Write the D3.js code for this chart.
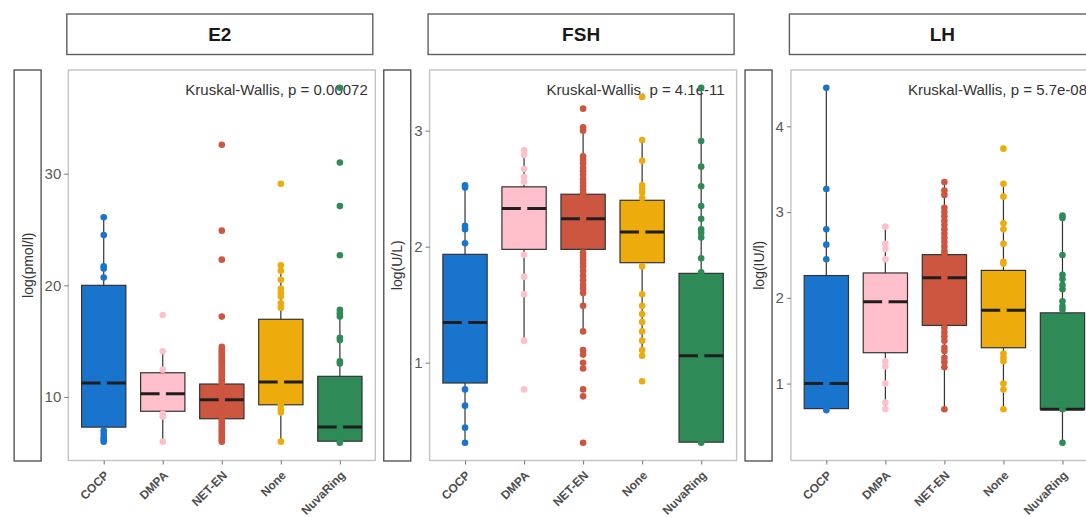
<!DOCTYPE html>
<html>
<head>
<meta charset="utf-8">
<script src="https://cdn.jsdelivr.net/npm/d3@7"></script>
<style>
  body { margin: 0; background: #fff; }
  svg { display: block; font-family: "Liberation Sans", Arial, sans-serif; }
</style>
</head>
<body>
<svg id="chart" width="1086" height="517"></svg>
<script>
// ---- categories and labels ----
const groups = ["COCP", "DMPA", "NET-EN", "None", "NuvaRing"];
const groupColors = ["#1874CD", "#FFC0CB", "#CD5640", "#EDAB0C", "#2E8B57"];
const hormones = ["E2", "FSH", "LH"];
const yTitles = ["log(pmol/l)", "log(U/L)", "log(IU/l)"];
const testLabels = [
  "Kruskal-Wallis, p = 0.00072",
  "Kruskal-Wallis, p = 4.1e-11",
  "Kruskal-Wallis, p = 5.7e-08"
];

// ---- E2 ----
const e2Ticks = [10, 20, 30];
const e2Lower  = [6.0, 6.0, 6.0, 6.0, 5.9];
const e2Q1     = [7.3, 8.72, 8.05, 9.3, 6.04];
const e2Median = [11.25, 10.3, 9.76, 11.34, 7.3];
const e2Q3     = [20.0, 12.17, 11.16, 16.96, 11.85];
const e2Upper  = [26.1, 14.1, 14.5, 21.8, 17.8];
const e2Points = [
  [26.1, 24.5, 21.7, 21.5, 20.7, 16.0, 11.25, 9.0, 7.0, 6.7, 6.4, 6.2, 6.0],
  [17.35, 14.1, 12.45, 11.5, 10.3, 9.5, 8.5, 8.25, 6.0],
  [32.6, 24.9, 22.3, 17.2, 14.5, 14.3, 14.1, 13.9, 13.7, 13.5, 13.3, 13.1, 12.9, 12.7, 12.5, 12.3, 12.1, 11.9, 11.7, 11.5, 11.3, 10.6, 9.76, 9.0, 8.5, 8.0, 7.8, 7.6, 7.4, 7.2, 7.0, 6.8, 6.6, 6.4, 6.2, 6.0],
  [29.1, 21.8, 21.3, 20.5, 19.7, 19.3, 19.0, 18.4, 18.0, 14.0, 11.34, 9.9, 9.3, 8.9, 8.6, 6.0],
  [37.7, 31.0, 27.1, 22.7, 17.8, 17.5, 17.2, 15.3, 15.1, 13.2, 13.0, 11.0, 9.0, 7.3, 6.5, 6.04, 5.9]
];

// ---- FSH ----
const fshTicks = [1, 2, 3];
const fshLower  = [0.31, 1.19, 1.27, 1.06, 0.31];
const fshQ1     = [0.825, 1.977, 1.977, 1.862, 0.315];
const fshMedian = [1.347, 2.33, 2.24, 2.126, 1.06];
const fshQ3     = [1.934, 2.516, 2.452, 2.40, 1.77];
const fshUpper  = [2.53, 2.83, 3.03, 2.92, 3.37];
const fshPoints = [
  [2.53, 2.51, 2.18, 2.15, 2.03, 1.7, 1.347, 1.0, 0.77, 0.63, 0.44, 0.31],
  [2.83, 2.79, 2.67, 2.6, 2.56, 2.45, 2.33, 2.1, 1.93, 1.74, 1.59, 1.19, 0.77],
  [3.19, 3.03, 3.0, 2.78, 2.75, 2.72, 2.68, 2.65, 2.62, 2.58, 2.55, 2.52, 2.49, 2.46, 2.35, 2.24, 2.1, 1.95, 1.92, 1.89, 1.86, 1.83, 1.79, 1.75, 1.71, 1.67, 1.64, 1.6, 1.49, 1.27, 1.11, 1.07, 1.0, 0.95, 0.77, 0.71, 0.31],
  [3.29, 2.92, 2.74, 2.53, 2.5, 2.47, 2.42, 2.3, 2.126, 1.95, 1.83, 1.59, 1.49, 1.42, 1.35, 1.27, 1.19, 1.11, 1.06, 0.84],
  [3.37, 2.91, 2.69, 2.52, 2.35, 2.24, 2.15, 2.12, 2.08, 1.9, 1.78, 1.5, 1.06, 0.7, 0.31]
];

// ---- LH ----
const lhTicks = [1, 2, 3, 4];
const lhLower  = [0.69, 0.7, 0.7, 0.7, 0.31];
const lhQ1     = [0.708, 1.36, 1.678, 1.418, 0.70];
const lhMedian = [1.0, 1.953, 2.233, 1.856, 0.70];
const lhQ3     = [2.26, 2.29, 2.504, 2.32, 1.825];
const lhUpper  = [4.45, 2.83, 3.35, 3.33, 2.96];
const lhPoints = [
  [4.45, 3.27, 2.8, 2.62, 2.45, 1.8, 1.0, 0.8, 0.72, 0.69],
  [2.83, 2.63, 2.57, 2.45, 2.1, 1.953, 1.6, 1.26, 1.2, 1.0, 0.78, 0.7],
  [3.35, 3.25, 3.2, 3.05, 3.0, 2.95, 2.9, 2.85, 2.8, 2.75, 2.7, 2.65, 2.6, 2.55, 2.52, 2.233, 1.9, 1.65, 1.6, 1.55, 1.5, 1.42, 1.38, 1.3, 1.25, 1.19, 0.7],
  [3.74, 3.33, 3.18, 2.87, 2.8, 2.63, 2.42, 2.4, 2.1, 1.856, 1.6, 1.35, 1.3, 1.26, 1.0, 0.93, 0.7],
  [2.96, 2.93, 2.5, 2.27, 2.22, 2.15, 2.1, 1.96, 1.9, 1.86, 1.5, 1.0, 0.7, 0.31]
];

const panels = [
  { ticks: e2Ticks,  lower: e2Lower,  q1: e2Q1,  med: e2Median,  q3: e2Q3,  upper: e2Upper,  pts: e2Points },
  { ticks: fshTicks, lower: fshLower, q1: fshQ1, med: fshMedian, q3: fshQ3, upper: fshUpper, pts: fshPoints },
  { ticks: lhTicks,  lower: lhLower,  q1: lhQ1,  med: lhMedian,  q3: lhQ3,  upper: lhUpper,  pts: lhPoints }
];

// ---- layout ----
const panelLeft0 = 68.3, panelGap = 361.3, panelW = 307;
const panelTop = 70, panelH = 390.5;
const stripTop = 14, stripH = 40.5;

const svg = d3.select("#chart");
svg.append("rect").attr("width", 1086).attr("height", 517).attr("fill", "#fff");

panels.forEach((p, i) => {
  const left = panelLeft0 + i * panelGap;
  const g = svg.append("g").attr("transform", `translate(${left},${panelTop})`);

  const all = p.pts.flat().concat(p.lower, p.upper);
  const [mn, mx] = d3.extent(all);
  const pad = (mx - mn) * 0.05;
  const y = d3.scaleLinear().domain([mn - pad, mx + pad]).range([panelH, 0]);
  const x = d3.scalePoint().domain(groups).range([0, panelW]).padding(0.6);
  const bw = x.step() * 0.75;

  // facet strip
  g.append("rect")
    .attr("x", -1.5).attr("y", stripTop - panelTop)
    .attr("width", panelW - 1).attr("height", stripH)
    .attr("fill", "#fff").attr("stroke", "#5f5f5f").attr("stroke-width", 1.4);
  g.append("text")
    .attr("x", panelW / 2 - 2).attr("y", stripTop - panelTop + stripH / 2 + 7)
    .attr("text-anchor", "middle").attr("font-size", 19).attr("font-weight", "bold")
    .attr("fill", "#1a1a1a").text(hormones[i]);

  // panel background + border
  g.append("rect").attr("width", panelW).attr("height", panelH)
    .attr("fill", "#fff").attr("stroke", "#c4c4c4").attr("stroke-width", 1.4);

  // y axis
  const ya = g.append("g")
    .call(d3.axisLeft(y).tickValues(p.ticks).tickSize(4).tickPadding(3).tickFormat(d3.format("d")))
    .attr("font-size", null).attr("font-family", null);
  ya.select(".domain").remove();
  ya.selectAll(".tick line").attr("stroke", "#7f7f7f").attr("stroke-width", 1.1);
  ya.selectAll(".tick text").attr("fill", "#5a5a5a").attr("font-size", 15);

  // boxed y title, placed just left of the tick labels
  const bb = ya.node().getBBox();
  const boxW = 27, boxRight = bb.x - 3.5;
  g.append("rect")
    .attr("x", boxRight - boxW).attr("y", 0).attr("width", boxW).attr("height", panelH + 0.5)
    .attr("fill", "#fff").attr("stroke", "#555").attr("stroke-width", 1.4);
  g.append("text")
    .attr("transform", `translate(${boxRight - boxW / 2 + 5},${panelH / 2}) rotate(-90)`)
    .attr("text-anchor", "middle").attr("font-size", 14).attr("fill", "#333")
    .text(yTitles[i]);

  // x axis
  const xa = g.append("g").attr("transform", `translate(0,${panelH})`)
    .call(d3.axisBottom(x).tickSize(4))
    .attr("font-size", null).attr("font-family", null);
  xa.select(".domain").remove();
  xa.selectAll(".tick line").attr("stroke", "#7f7f7f").attr("stroke-width", 1.1);
  xa.selectAll(".tick text")
    .attr("x", 0).attr("y", 0).attr("dy", null)
    .attr("transform", "translate(5.5,15.5) rotate(-45)")
    .attr("text-anchor", "end").attr("font-size", 12).attr("font-weight", "bold")
    .attr("fill", "#4d4d4d");

  // test annotation
  g.append("text").attr("x", 117).attr("y", 25)
    .attr("font-size", 15).attr("fill", "#333").text(testLabels[i]);

  // boxplots
  groups.forEach((grp, k) => {
    const cx = x(grp);
    const bg = g.append("g");
    bg.append("line")
      .attr("x1", cx).attr("x2", cx)
      .attr("y1", y(p.lower[k])).attr("y2", y(p.upper[k]))
      .attr("stroke", "#333").attr("stroke-width", 1.2);
    bg.append("rect")
      .attr("x", cx - bw / 2).attr("y", y(p.q3[k]))
      .attr("width", bw).attr("height", y(p.q1[k]) - y(p.q3[k]))
      .attr("fill", groupColors[k]).attr("stroke", "#333").attr("stroke-width", 1.2);
    bg.append("line")
      .attr("x1", cx - bw / 2).attr("x2", cx + bw / 2)
      .attr("y1", y(p.med[k])).attr("y2", y(p.med[k]))
      .attr("stroke", "#1f1f1f").attr("stroke-width", 3);
  });

  // data points
  groups.forEach((grp, k) => {
    g.append("g").selectAll("circle")
      .data(p.pts[k]).join("circle")
      .attr("cx", x(grp)).attr("cy", d => y(d))
      .attr("r", 3.3).attr("fill", groupColors[k]);
  });
});
</script>
</body>
</html>
